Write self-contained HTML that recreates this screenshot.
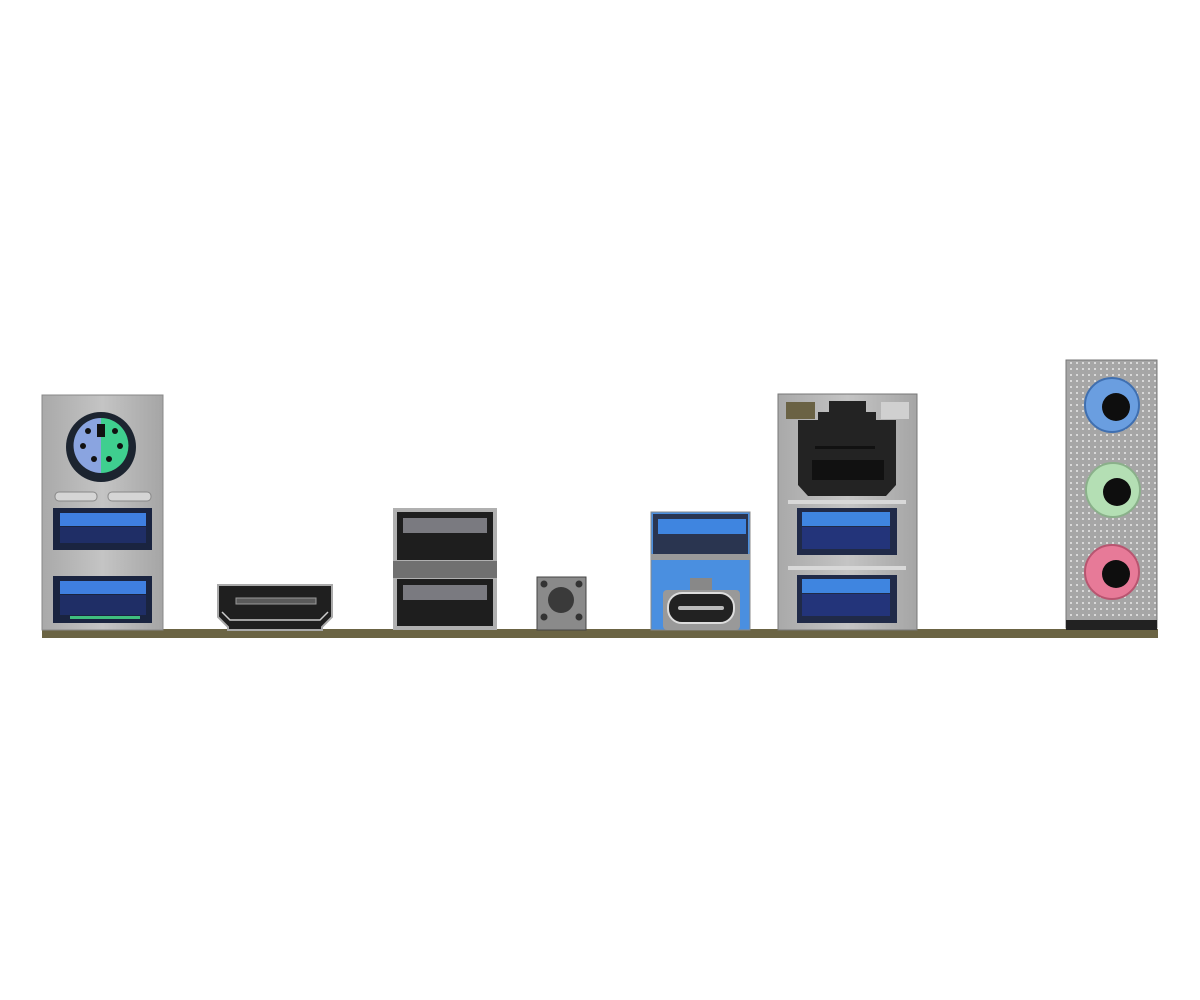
<!DOCTYPE html>
<html><head><meta charset="utf-8"><style>html,body{margin:0;padding:0;background:#fff;}svg{display:block}</style></head>
<body>
<svg width="1200" height="1000" viewBox="0 0 1200 1000" xmlns="http://www.w3.org/2000/svg">
<defs>
<linearGradient id="metal" x1="0" y1="0" x2="1" y2="0">
<stop offset="0" stop-color="#a9a9a9"/><stop offset="0.5" stop-color="#c4c4c4"/><stop offset="1" stop-color="#a5a5a5"/>
</linearGradient>
<linearGradient id="dark" x1="0" y1="0" x2="0" y2="1">
<stop offset="0" stop-color="#3a3a3a"/><stop offset="1" stop-color="#1a1a1a"/>
</linearGradient>
<pattern id="dots" width="6" height="6" patternUnits="userSpaceOnUse">
<rect width="6" height="6" fill="#a6a6a6"/><rect x="2" y="2" width="2" height="2" fill="#d8d8d8"/>
</pattern>
</defs>
<!-- PCB strip -->
<rect x="42" y="629" width="1116" height="9" fill="#6b6444"/>
<!-- PS2 + USB block -->
<rect x="42" y="395" width="121" height="235" fill="url(#metal)" stroke="#888" stroke-width="1"/>
<circle cx="101" cy="447" r="35" fill="#1c2430"/>
<path d="M101 418 A27 27 0 0 0 101 473 Z" fill="#8aa4e0"/>
<path d="M101 418 A27 27 0 0 1 101 473 Z" fill="#3fcf8f"/>
<rect x="97" y="424" width="8" height="13" fill="#111"/>
<g fill="#111"><circle cx="88" cy="431" r="3"/><circle cx="83" cy="446" r="3"/><circle cx="94" cy="459" r="3"/><circle cx="115" cy="431" r="3"/><circle cx="120" cy="446" r="3"/><circle cx="109" cy="459" r="3"/></g>
<rect x="55" y="492" width="42" height="9" rx="4" fill="#d5d5d5" stroke="#888"/>
<rect x="108" y="492" width="43" height="9" rx="4" fill="#d5d5d5" stroke="#888"/>
<rect x="53" y="508" width="99" height="42" fill="#1a2440"/>
<rect x="60" y="513" width="86" height="13" fill="#3f7fe0"/>
<rect x="60" y="527" width="86" height="16" fill="#1f2e66"/>
<rect x="53" y="576" width="99" height="47" fill="#1a2440"/>
<rect x="60" y="581" width="86" height="13" fill="#3f7fe0"/>
<rect x="60" y="595" width="86" height="20" fill="#1f2e66"/>
<rect x="70" y="616" width="70" height="3" fill="#3fbf7f"/>
<!-- HDMI -->
<path d="M218 585 H332 V617 L322 627 V630 H228 V627 L218 617 Z" fill="#1f1f1f" stroke="#aaa" stroke-width="2"/>
<rect x="236" y="598" width="80" height="6" fill="#5a5a5a" stroke="#999" stroke-width="1"/>
<path d="M222 612 L230 620 H320 L328 612" fill="none" stroke="#ccc" stroke-width="1.5"/>
<!-- Dual USB2 -->
<rect x="393" y="508" width="104" height="122" fill="#b0b0b0"/>
<rect x="397" y="512" width="96" height="48" fill="#1e1e1e"/>
<rect x="403" y="518" width="84" height="15" fill="#7a7a80"/>
<rect x="393" y="561" width="104" height="17" fill="#707070"/>
<rect x="397" y="579" width="96" height="47" fill="#1e1e1e"/>
<rect x="403" y="585" width="84" height="15" fill="#7a7a80"/>
<!-- Button -->
<rect x="537" y="577" width="49" height="53" fill="#8a8a8a" stroke="#444"/>
<circle cx="561" cy="600" r="13" fill="#3a3a3a"/>
<g fill="#333"><circle cx="544" cy="584" r="3.5"/><circle cx="579" cy="584" r="3.5"/><circle cx="544" cy="617" r="3.5"/><circle cx="579" cy="617" r="3.5"/></g>
<!-- USB3 + Type-C -->
<rect x="651" y="512" width="99" height="118" fill="#4a8fe0" stroke="#888"/>
<rect x="653" y="514" width="95" height="40" fill="#2a3550"/>
<rect x="658" y="519" width="88" height="15" fill="#3f85e0"/>
<rect x="651" y="554" width="99" height="6" fill="#9a9a9a"/>
<rect x="690" y="578" width="22" height="12" fill="#888"/>
<rect x="663" y="590" width="77" height="40" rx="4" fill="#999"/>
<rect x="668" y="593" width="66" height="30" rx="14" fill="#222" stroke="#ddd" stroke-width="2"/>
<rect x="678" y="606" width="46" height="4" rx="2" fill="#bbb"/>
<!-- LAN + USB -->
<rect x="778" y="394" width="139" height="236" fill="url(#metal)" stroke="#777"/>
<rect x="786" y="402" width="29" height="17" fill="#6a6244"/>
<rect x="881" y="402" width="28" height="17" fill="#d0d0d0"/>
<path d="M829 401 H866 V412 H876 V420 H896 V485 L886 496 H808 L798 485 V420 H818 V412 H829 Z" fill="#232323"/>
<rect x="815" y="446" width="60" height="3" fill="#111"/>
<g fill="#111"><rect x="812" y="460" width="72" height="20"/></g>
<rect x="788" y="500" width="118" height="4" fill="#d8d8d8"/>
<rect x="797" y="508" width="100" height="47" fill="#202a48"/>
<rect x="802" y="512" width="88" height="14" fill="#3f85e0"/>
<rect x="802" y="527" width="88" height="22" fill="#23347a"/>
<rect x="788" y="566" width="118" height="4" fill="#d8d8d8"/>
<rect x="797" y="575" width="100" height="48" fill="#202a48"/>
<rect x="802" y="579" width="88" height="14" fill="#3f85e0"/>
<rect x="802" y="594" width="88" height="22" fill="#23347a"/>
<!-- Audio -->
<rect x="1066" y="360" width="91" height="268" fill="url(#dots)" stroke="#777"/>
<rect x="1066" y="620" width="91" height="10" fill="#222"/>
<circle cx="1112" cy="405" r="27" fill="#6a9ee0" stroke="#3f6fb0" stroke-width="2"/>
<circle cx="1116" cy="407" r="14" fill="#0e0e0e"/>
<circle cx="1113" cy="490" r="27" fill="#b4dfb4" stroke="#8ab08a" stroke-width="2"/>
<circle cx="1117" cy="492" r="14" fill="#0e0e0e"/>
<circle cx="1112" cy="572" r="27" fill="#e77a98" stroke="#b85570" stroke-width="2"/>
<circle cx="1116" cy="574" r="14" fill="#0e0e0e"/>
</svg>
</body></html>
